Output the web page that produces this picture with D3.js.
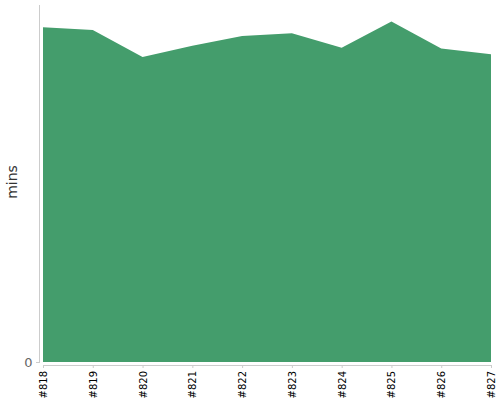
<!DOCTYPE html>
<html><head><meta charset="utf-8">
<script src="https://cdn.jsdelivr.net/npm/d3@7"></script>
<style>body{margin:0;background:#fff}svg{display:block}</style>
</head><body>
<svg id="c" width="500" height="400"></svg>
<script>
const categories = ["#818","#819","#820","#821","#822","#823","#824","#825","#826","#827"];
const values = [93.8, 93.0, 85.4, 88.6, 91.3, 92.1, 88.0, 95.4, 87.8, 86.2];
const yTicks = [0];

const FONT = "'DejaVu Sans', Verdana, sans-serif";
const svg = d3.select("#c");
const x = d3.scalePoint().domain(categories).range([43, 491]);
const y = d3.scaleLinear().domain([0, 100]).range([362, 5]);

const area = d3.area().x((d,i)=>x(categories[i])).y0(y(0)).y1(d=>y(d));
svg.append("path").datum(values).attr("d", area).attr("fill", "#449d6c");

// y axis
svg.append("line").attr("x1",39.5).attr("x2",39.5).attr("y1",5).attr("y2",363).attr("stroke","#ccc");
yTicks.forEach(t=>{
  svg.append("line").attr("x1",36).attr("x2",40).attr("y1",y(t)+0.5).attr("y2",y(t)+0.5).attr("stroke","#ccc");
  svg.append("text").attr("x",32.5).attr("y",y(t)).attr("dy","0.35em").attr("text-anchor","end")
    .attr("font-family",FONT).attr("font-size",13).attr("fill","#666").text(t);
});
svg.append("text").attr("transform","translate(17,182) rotate(-90)").attr("text-anchor","middle")
  .attr("font-family",FONT).attr("font-size",14).attr("fill","#333").text("mins");

// x axis
const gx = svg.append("g").attr("transform","translate(0,365)")
  .call(d3.axisBottom(x).tickSize(3).tickSizeOuter(0));
gx.select(".domain").attr("stroke","#ccc");
gx.selectAll(".tick line").attr("stroke","#ccc");
gx.selectAll(".tick text").attr("font-family",FONT).attr("font-size",10).attr("fill","#000")
  .attr("transform","rotate(-90)").attr("text-anchor","end").attr("x",-6).attr("y",0).attr("dy","0.35em");
</script>
</body></html>
